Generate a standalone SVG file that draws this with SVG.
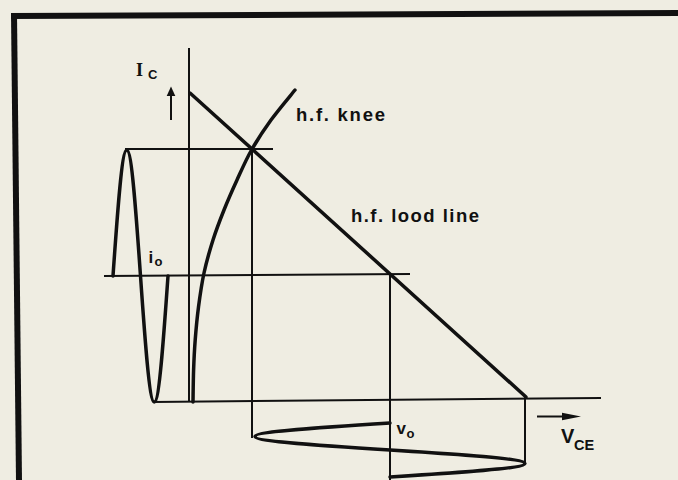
<svg xmlns="http://www.w3.org/2000/svg" width="678" height="480" viewBox="0 0 678 480">
  <style>
    .thin { fill: none; stroke: #111; stroke-width: 2; stroke-linecap: butt; }
    .thick { fill: none; stroke: #111; stroke-width: 3.5; stroke-linecap: round; stroke-linejoin: round; }
    .lbl { font-family: "Liberation Sans", Arial, sans-serif; font-weight: bold; fill: #111; }
    .serif { font-family: "Liberation Serif", "Times New Roman", serif; font-weight: bold; fill: #111; }
  </style>
  <rect x="0" y="0" width="678" height="480" fill="#efede2"/>

  <g id="frame">
    <path d="M11,16 L678,13" fill="none" stroke="#111" stroke-width="6"/>
    <path d="M14,13 L19,480" fill="none" stroke="#111" stroke-width="6"/>
  </g>

  <g id="axes">
    <path class="thin" d="M189,48 L189,402"/>
    <path class="thin" d="M153,402 L601,398"/>
    <path class="thin" d="M171,120 L171,95"/>
    <polygon points="171,86.5 166.7,96 175.3,96" fill="#111"/>
    <path class="thin" d="M537,416.5 L565,416.5"/>
    <polygon points="581,416.5 562,412.7 562,420.3" fill="#111"/>
  </g>

  <g id="projections">
    <path class="thin" d="M125,149 L273,149"/>
    <path class="thin" d="M104,276 L410,274"/>
    <path class="thin" d="M252,149 L252,438"/>
    <path class="thin" d="M390,274 L390,480"/>
    <path class="thin" d="M525,397 L525,463"/>
  </g>

  <g id="load-line">
    <path class="thick" d="M190,93 L526,397"/>
  </g>

  <g id="knee-curve">
    <path class="thick" d="M193,402 C193.1,396.7 193.23,380.3 193.6,370 C193.97,359.67 194.38,350.5 195.2,340 C196.02,329.5 197.03,318.17 198.5,307 C199.97,295.83 201.58,284.17 204,273 C206.42,261.83 209.67,250.5 213,240 C216.33,229.5 220,220 224,210 C228,200 232.42,190 237,180 C241.58,170 245.83,160 251.5,150 C257.17,140 263.75,130 271,120 C278.25,110 291,95 295,90"/>
  </g>

  <g id="io-wave">
    <path class="thick" stroke-width="3" d="M113,276 C117.5,211.5 121.8,150 126.75,150 C131.7,150 136,211.5 140.5,276 C145,340.5 149.3,402 154.25,402 C159.2,402 163.5,340.5 168,276"/>
  </g>

  <g id="vo-wave">
    <path class="thick" d="M390,423 C320.8,427.4 255,431.6 255,436.5 C255,441.4 320.8,445.6 390,450 C459.2,454.4 525,458.6 525,463.5 C525,468.4 459.2,472.6 390,477"/>
  </g>

  <g id="labels">
    <text class="serif" x="136" y="76" font-size="18">I</text>
    <text class="lbl" x="148" y="79" font-size="13">C</text>
    <text class="lbl" x="296" y="121" font-size="18.5" textLength="89" lengthAdjust="spacing">h.f. knee</text>
    <text class="lbl" x="351" y="222" font-size="18.5" textLength="128" lengthAdjust="spacing">h.f. lood line</text>
    <text class="lbl" x="148.5" y="263" font-size="17">i</text>
    <text class="lbl" x="154.5" y="266" font-size="13">o</text>
    <text class="lbl" x="396.5" y="434" font-size="17">v</text>
    <text class="lbl" x="406.5" y="437.5" font-size="13">o</text>
    <text class="lbl" x="561" y="443" font-size="20">V</text>
    <text class="lbl" x="574" y="450" font-size="14.5">CE</text>
  </g>
</svg>
